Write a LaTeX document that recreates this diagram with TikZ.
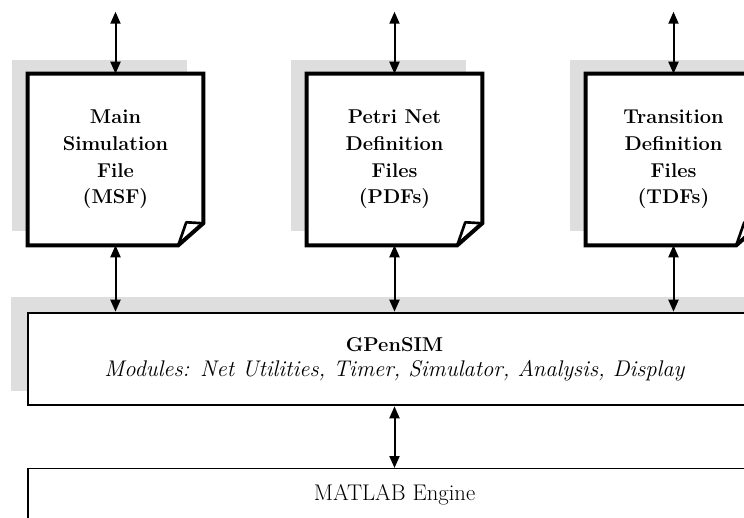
\documentclass[tikz,border=0pt]{standalone}
\usetikzlibrary{arrows.meta, positioning, calc, backgrounds}
\definecolor{cshade}{HTML}{DEDEDE}
\tikzset{
  filebox/.style={minimum width=131.25pt, minimum height=128.25pt, inner sep=0pt, align=center, font=\fontsize{15}{20}\selectfont\bfseries},
  fileline/.style={draw=black, fill=white, line width=3pt, line join=miter},
  fold/.style={draw=black, line width=2pt, line join=round},
  greyshade/.style={fill=cshade},
  modbox/.style={draw=black, fill=white, line width=2pt, minimum width=549.75pt, minimum height=69pt, inner sep=0pt, align=center, font=\fontsize{15}{19}\selectfont},
  enginebox/.style={draw=black, fill=white, line width=0.8pt, minimum width=549.75pt, minimum height=50pt, inner sep=0pt, text height=11pt, text depth=13pt, font=\fontsize{17}{20}\selectfont},
  link/.style={{Triangle[length=9pt, width=7.5pt]}-{Triangle[length=9pt, width=7.5pt]}, line width=1.5pt},
}
\begin{document}
\begin{tikzpicture}[x=0.75pt, y=-0.75pt]
  \useasboundingbox (0,0) rectangle (744,518);
  % ---- the three input files
  \node[filebox] (msf) at (115.5,159.5) {Main\\Simulation\\File\\(MSF)};
  \node[filebox] (pdf) at (394.5,159.5) {Petri Net\\Definition\\Files\\(PDFs)};
  \node[filebox] (tdf) at (673.5,159.5) {Transition\\Definition\\Files\\(TDFs)};
  % ---- toolbox and engine
  \node[modbox] (sim) at (394.5,359) {{\bfseries GPenSIM}\\{\fontsize{17}{19}\selectfont\itshape Modules: Net Utilities, Timer, Simulator, Analysis, Display}};
  \node[enginebox, anchor=north] (engine) at (394.5,468) {MATLAB Engine};
  \begin{scope}[on background layer]
    \foreach \f in {msf,pdf,tdf} {
      \fill[greyshade] ($(\f.north west)+(-16,-14)$) rectangle ($(\f.south east)+(-16,-14)$);
      \draw[fileline] (\f.north west) -- (\f.north east) -- ($(\f.south east)+(0,-22)$) -- ($(\f.south east)+(-25,0)$) -- (\f.south west) -- cycle;
      \draw[fold] ($(\f.south east)+(-25,0)$) -- ($(\f.south east)+(-17,-23)$) -- ($(\f.south east)+(0,-22)$);
    }
    \fill[greyshade] ($(sim.north west)+(-16,-15)$) rectangle ($(sim.south east)+(-16,-15)$);
  \end{scope}
  % ---- arrows
  \foreach \f in {msf,pdf,tdf} {
    \coordinate (\f-in) at ($(\f.north)+(0,-62)$);
    \draw[link] (\f-in) -- (\f.north);
    \draw[link] (\f.south) -- (\f.south |- sim.north);
  }
  \draw[link] (sim.south) -- (engine.north);
\end{tikzpicture}
\end{document}
